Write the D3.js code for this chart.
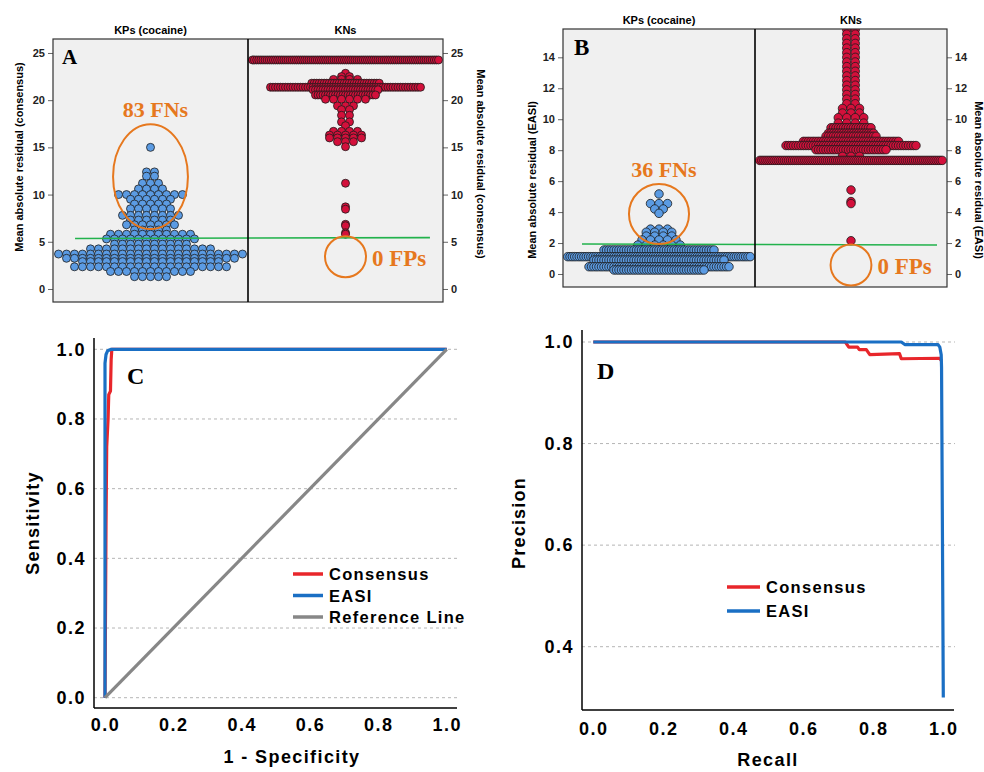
<!DOCTYPE html>
<html>
<head>
<meta charset="utf-8">
<script src="https://cdn.jsdelivr.net/npm/d3@7"></script>
<style>
  body { margin: 0; background: #fff; }
  svg text { font-family: Arial, "Liberation Sans", sans-serif; }
</style>
</head>
<body>
<svg id="fig" width="984" height="772"></svg>
<script>
// dot plot rows: [mean absolute residual, number of compounds at that level]
const kpConsensus = [
  [15.0, 1], [12.4, 2], [11.95, 2], [11.2, 3], [10.6, 4], [10.0, 9], [9.5, 6], [9.0, 5],
  [8.5, 6], [7.8, 8], [7.3, 6], [6.8, 7], [6.25, 5], [5.8, 11], [5.3, 12], [4.75, 10],
  [4.25, 16], [3.7, 24], [3.25, 22], [2.9, 18], [2.35, 20], [1.85, 11], [1.3, 5]
]
const knConsensus = [
  [24.26, 90], [22.85, 1], [22.5, 2], [22.2, 4], [21.8, 28], [21.37, 61], [21.1, 27],
  [20.55, 25], [20.1, 6], [19.4, 3], [19.0, 2], [18.4, 2], [17.7, 2], [17.3, 1],
  [16.7, 4], [16.3, 5], [16.0, 5], [15.6, 3], [15.07, 1], [11.2, 1], [8.7, 1], [8.45, 1],
  [6.85, 1], [6.7, 1], [5.95, 1], [5.8, 1]
]
const kpEasi = [
  [5.17, 1], [4.55, 3], [4.2, 2], [3.92, 1], [2.9, 3], [2.7, 4], [2.45, 4], [2.2, 5],
  [1.87, 6], [1.55, 45], [1.12, 80], [0.9, 53], [0.47, 57], [0.26, 37]
]
const knEasi = [
  [15.8, 2], [15.5, 2], [15.2, 2], [14.9, 2], [14.6, 2], [14.3, 2], [14.0, 2], [13.7, 2],
  [13.4, 2], [13.1, 2], [12.8, 2], [12.5, 2], [12.2, 2], [11.9, 2], [11.6, 2], [11.3, 2],
  [11.0, 2], [10.7, 3], [10.4, 3], [10.1, 4], [9.75, 4], [9.45, 17], [9.1, 19], [8.9, 21],
  [8.57, 39], [8.3, 53], [8.03, 29], [7.6, 3], [7.34, 90], [5.43, 1], [4.68, 1], [4.55, 1],
  [2.15, 1]
]
const groups = ['KPs (cocaine)', 'KNs']

// classification cut-off line, value at left and right end
const cutConsensus = [5.35, 5.44]
const cutEasi = [1.94, 1.87]

const ticksConsensus = [0, 5, 10, 15, 20, 25]
const ticksEasi = [0, 2, 4, 6, 8, 10, 12, 14]

// ROC curves [1 - specificity, sensitivity]
const rocConsensus = [[0, 0], [0.003, 0.5], [0.005, 0.72], [0.009, 0.8], [0.011, 0.87],
  [0.016, 0.88], [0.018, 0.97], [0.02, 1], [1, 1]]
const rocEasi = [[0, 0], [0, 0.96], [0.003, 0.985], [0.008, 0.996], [0.018, 1], [1, 1]]
const rocReference = [[0, 0], [1, 1]]

// precision-recall curves [recall, precision]
const prConsensus = [[0, 1], [0.72, 1], [0.725, 0.995], [0.73, 0.99], [0.755, 0.99],
  [0.76, 0.985], [0.78, 0.985], [0.79, 0.975], [0.875, 0.977], [0.88, 0.967],
  [0.99, 0.968], [0.995, 0.963]]
const prEasi = [[0, 1], [0.88, 1], [0.89, 0.995], [0.985, 0.995], [0.99, 0.99],
  [0.994, 0.975], [0.995, 0.95], [1.0, 0.3]]

const unitTicks = [0, 0.2, 0.4, 0.6, 0.8, 1.0]
const precisionTicks = [0.4, 0.6, 0.8, 1.0]

const BLUE_DOT = '#5b9be3'
const RED_DOT = '#d3103b'
const ORANGE = '#e6781e'
const RED = '#e8262b'
const BLUE = '#1a6fc4'
const GRAY = '#878787'
const denseStep = 2.5

const svg = d3.select('#fig')

function dotPanel (cfg) {
  const x = d3.scaleLinear().domain([0, 2]).range([cfg.left, cfg.right])
  const y = d3.scaleLinear().domain(cfg.yDomain).range([cfg.bottom, cfg.top])
  const g = svg.append('g')

  svg.append('clipPath').attr('id', 'clip' + cfg.id)
    .append('rect')
    .attr('x', cfg.left).attr('y', cfg.top)
    .attr('width', cfg.right - cfg.left).attr('height', cfg.bottom - cfg.top)

  g.append('rect')
    .attr('x', cfg.left).attr('y', cfg.top)
    .attr('width', cfg.right - cfg.left).attr('height', cfg.bottom - cfg.top)
    .attr('fill', '#f0f0f0')

  // axes left and right
  const styleAxis = (sel) => {
    sel.select('.domain').remove()
    sel.selectAll('.tick line').attr('stroke', '#666')
    sel.selectAll('.tick text').attr('font-size', 11).attr('font-weight', 'bold').attr('fill', '#222')
  }
  g.append('g').attr('transform', `translate(${cfg.left},0)`)
    .call(d3.axisLeft(y).tickValues(cfg.ticks).tickSize(5).tickPadding(3))
    .call(styleAxis)
  g.append('g').attr('transform', `translate(${cfg.right},0)`)
    .call(d3.axisRight(y).tickValues(cfg.ticks).tickSize(5).tickPadding(3))
    .call(styleAxis)

  // group titles
  g.selectAll('.grp').data(groups).enter().append('text')
    .attr('x', (d, i) => x(i + 0.5)).attr('y', cfg.top - 5)
    .attr('text-anchor', 'middle').attr('font-size', 11).attr('font-weight', 'bold')
    .text(d => d)

  // axis titles
  g.append('text')
    .attr('transform', `translate(${cfg.leftLabelX},${cfg.labelY[0]}) rotate(-90)`)
    .attr('text-anchor', 'middle').attr('font-size', 11).attr('font-weight', 'bold')
    .attr('dominant-baseline', 'central')
    .text(cfg.label)
  g.append('text')
    .attr('transform', `translate(${cfg.rightLabelX},${cfg.labelY[1]}) rotate(90)`)
    .attr('text-anchor', 'middle').attr('font-size', 11).attr('font-weight', 'bold')
    .attr('dominant-baseline', 'central')
    .text(cfg.label)

  // dots, laid out row by row around the group centre
  const dots = []
  const maxW = (x(1) - x(0)) - cfg.r * 2 - 1
  cfg.series.forEach((s, i) => {
    const cx = x(i + 0.5)
    s.rows.forEach(([v, n]) => {
      let step = cfg.r * 2
      if (n > s.dense) step = denseStep
      if (n > 1 && (n - 1) * step > maxW) step = maxW / (n - 1)
      for (let k = 0; k < n; k++) {
        dots.push({ x: cx + (k - (n - 1) / 2) * step, y: y(v), fill: s.color })
      }
    })
  })
  g.append('g').attr('clip-path', `url(#clip${cfg.id})`)
    .selectAll('circle').data(dots).enter().append('circle')
    .attr('cx', d => d.x).attr('cy', d => d.y).attr('r', cfg.r)
    .attr('fill', d => d.fill).attr('stroke', '#1c1c1c').attr('stroke-width', 0.8)

  // cut-off line
  g.append('line')
    .attr('x1', x(cfg.cutX[0])).attr('x2', x(cfg.cutX[1]))
    .attr('y1', y(cfg.cut[0])).attr('y2', y(cfg.cut[1]))
    .attr('stroke', '#22b24c').attr('stroke-width', 1.6)

  // frame and divider
  g.append('rect')
    .attr('x', cfg.left).attr('y', cfg.top)
    .attr('width', cfg.right - cfg.left).attr('height', cfg.bottom - cfg.top)
    .attr('fill', 'none').attr('stroke', '#333').attr('stroke-width', 1.2)
  g.append('line')
    .attr('x1', x(1)).attr('x2', x(1)).attr('y1', cfg.top).attr('y2', cfg.bottom)
    .attr('stroke', '#000').attr('stroke-width', 1.6)

  // FN / FP annotations
  const fn = cfg.fn
  const fnCx = x(0.5)
  const fnCy = y(fn.cy)
  const fnRy = Math.abs(y(fn.cy + fn.ry) - fnCy)
  const fnRx = fn.rx ? x(fn.rx) - x(0) : fnRy
  g.append('ellipse')
    .attr('cx', fnCx).attr('cy', fnCy).attr('rx', fnRx).attr('ry', fnRy)
    .attr('fill', 'none').attr('stroke', ORANGE).attr('stroke-width', 2)
  g.append('text')
    .attr('x', fnCx + 5).attr('y', fnCy - fnRy - 7)
    .attr('text-anchor', 'middle')
    .style('font-family', '"Liberation Serif", "Times New Roman", serif')
    .attr('font-size', 22).attr('font-weight', 'bold').attr('fill', ORANGE)
    .text(fn.text)

  const fp = cfg.fp
  const fpCx = x(1.5)
  const fpCy = y(fp.cy)
  const fpR = Math.abs(y(fp.cy + fp.r) - fpCy)
  g.append('circle')
    .attr('cx', fpCx).attr('cy', fpCy).attr('r', fpR)
    .attr('fill', 'none').attr('stroke', ORANGE).attr('stroke-width', 2)
  g.append('text')
    .attr('x', fpCx + fpR + 6).attr('y', fpCy + 9)
    .style('font-family', '"Liberation Serif", "Times New Roman", serif')
    .attr('font-size', 23).attr('font-weight', 'bold').attr('fill', ORANGE)
    .text(fp.text)

  // panel letter
  g.append('text')
    .attr('x', cfg.letterPos[0]).attr('y', cfg.letterPos[1])
    .style('font-family', '"Liberation Serif", "Times New Roman", serif')
    .attr('font-size', cfg.letterSize).attr('font-weight', 'bold')
    .text(cfg.letter)
}

dotPanel({
  id: 'A', left: 53, right: 443, top: 39, bottom: 302,
  yDomain: [-1.38, 26.48], ticks: ticksConsensus, r: 4,
  series: [{ rows: kpConsensus, color: BLUE_DOT, dense: Infinity },
    { rows: knConsensus, color: RED_DOT, dense: 8 }],
  cut: cutConsensus, cutX: [0.113, 1.933],
  label: 'Mean absolute residual (consensus)',
  leftLabelX: 19, rightLabelX: 481, labelY: [157, 164],
  fn: { cy: 11.9, ry: 5.56, rx: 0.192, text: '83 FNs' },
  fp: { cy: 3.42, r: 2.17, text: '0 FPs' },
  letter: 'A', letterPos: [62, 64], letterSize: 21
})

dotPanel({
  id: 'B', left: 563, right: 947, top: 29, bottom: 287,
  yDomain: [-0.84, 15.83], ticks: ticksEasi, r: 4.25,
  series: [{ rows: kpEasi, color: BLUE_DOT, dense: 8 },
    { rows: knEasi, color: RED_DOT, dense: 8 }],
  cut: cutEasi, cutX: [0.099, 1.948],
  label: 'Mean absolute residual (EASI)',
  leftLabelX: 532, rightLabelX: 979, labelY: [180, 180],
  fn: { cy: 3.88, ry: 1.94, text: '36 FNs' },
  fp: { cy: 0.58, r: 1.32, text: '0 FPs' },
  letter: 'B', letterPos: [574, 55], letterSize: 23
})

function curvePanel (cfg) {
  const x = d3.scaleLinear().domain([0, 1]).range(cfg.xRange)
  const y = d3.scaleLinear().domain(cfg.yDomain).range(cfg.yRange)
  const g = svg.append('g')

  // dashed grid
  g.selectAll('.grid').data(cfg.yTicks).enter().append('line')
    .attr('x1', cfg.spineX).attr('x2', cfg.gridEnd)
    .attr('y1', d => y(d)).attr('y2', d => y(d))
    .attr('stroke', '#b5b5b5').attr('stroke-width', 1).attr('stroke-dasharray', '3,3')

  const styleAxis = (sel) => {
    sel.select('.domain').remove()
    sel.selectAll('.tick line').remove()
    sel.selectAll('.tick text').attr('font-size', 18).attr('font-weight', 'bold')
      .attr('fill', '#000').style('letter-spacing', '1.5px')
  }
  g.append('g').attr('transform', `translate(${cfg.spineX},0)`)
    .call(d3.axisLeft(y).tickValues(cfg.yTicks).tickFormat(d3.format('.1f')).tickSize(0).tickPadding(8))
    .call(styleAxis)
  g.append('g').attr('transform', `translate(0,${cfg.spineY})`)
    .call(d3.axisBottom(x).tickValues(unitTicks).tickFormat(d3.format('.1f')).tickSize(0).tickPadding(cfg.xPad))
    .call(styleAxis)

  // spines
  g.append('line').attr('x1', cfg.spineX).attr('x2', cfg.spineX)
    .attr('y1', cfg.spineTop).attr('y2', cfg.spineY).attr('stroke', '#000').attr('stroke-width', 1.5)
  g.append('line').attr('x1', cfg.spineX).attr('x2', cfg.spineRight)
    .attr('y1', cfg.spineY).attr('y2', cfg.spineY).attr('stroke', '#000').attr('stroke-width', 1.5)

  const line = d3.line().x(d => x(d[0])).y(d => y(d[1]))
  cfg.curves.forEach(c => {
    g.append('path').datum(c.data).attr('d', line)
      .attr('fill', 'none').attr('stroke', c.color).attr('stroke-width', 3.2)
      .attr('stroke-linejoin', 'round')
  })

  // legend
  const lg = g.selectAll('.lg').data(cfg.curves).enter().append('g')
    .attr('transform', (d, i) => `translate(${cfg.legend[0]},${cfg.legend[1] + i * cfg.legendGap})`)
  lg.append('line').attr('x1', 0).attr('x2', cfg.legendLen)
    .attr('stroke', d => d.color).attr('stroke-width', 3.5)
  lg.append('text').attr('x', cfg.legendLen + 6).attr('y', 6)
    .attr('font-size', 16.5).attr('font-weight', 'bold').style('letter-spacing', '1.3px')
    .text(d => d.name)

  // axis titles
  g.append('text').attr('x', cfg.xTitle[0]).attr('y', cfg.xTitle[1])
    .attr('text-anchor', 'middle').attr('font-size', 18).attr('font-weight', 'bold')
    .style('letter-spacing', '1.4px').text(cfg.xLabel)
  g.append('text')
    .attr('transform', `translate(${cfg.yTitle[0]},${cfg.yTitle[1]}) rotate(-90)`)
    .attr('text-anchor', 'middle').attr('dominant-baseline', 'central')
    .attr('font-size', 18).attr('font-weight', 'bold')
    .style('letter-spacing', '1.2px').text(cfg.yLabel)

  g.append('text').attr('x', cfg.letterPos[0]).attr('y', cfg.letterPos[1])
    .style('font-family', '"Liberation Serif", "Times New Roman", serif')
    .attr('font-size', 24).attr('font-weight', 'bold').text(cfg.letter)
}

curvePanel({
  xRange: [105, 446.7], yDomain: [0, 1], yRange: [697.7, 349.3], yTicks: unitTicks,
  spineX: 94, spineY: 708, spineTop: 338, spineRight: 457, gridEnd: 458, xPad: 10,
  curves: [
    { name: 'Consensus', data: rocConsensus, color: RED },
    { name: 'EASI', data: rocEasi, color: BLUE },
    { name: 'Reference Line', data: rocReference, color: GRAY }
  ],
  legend: [293, 574], legendGap: 21.5, legendLen: 30,
  xLabel: '1 - Specificity', xTitle: [292, 763],
  yLabel: 'Sensitivity', yTitle: [33, 523],
  letter: 'C', letterPos: [127, 384]
})

curvePanel({
  xRange: [593.3, 943.3], yDomain: [0.4, 1], yRange: [646.7, 342], yTicks: precisionTicks,
  spineX: 582, spineY: 710, spineTop: 330, spineRight: 954, gridEnd: 955, xPad: 12,
  curves: [
    { name: 'Consensus', data: prConsensus, color: RED },
    { name: 'EASI', data: prEasi, color: BLUE }
  ],
  legend: [727, 587], legendGap: 24, legendLen: 33,
  xLabel: 'Recall', xTitle: [768, 766],
  yLabel: 'Precision', yTitle: [519, 523],
  letter: 'D', letterPos: [597, 379]
})
</script>
</body>
</html>
